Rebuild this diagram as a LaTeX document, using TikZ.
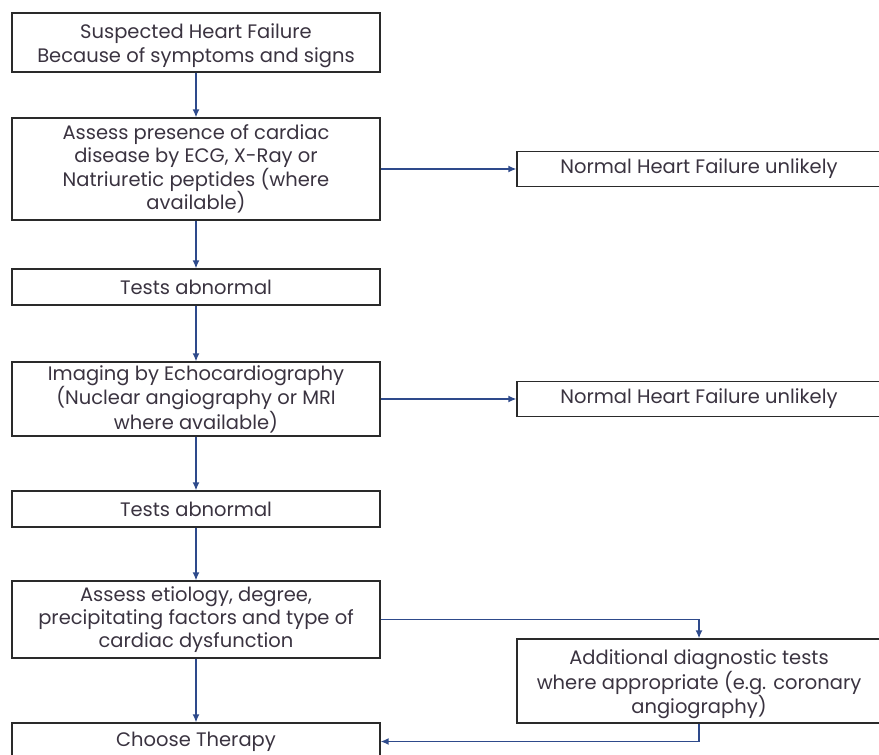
\documentclass[tikz,border=0pt]{standalone}
\usepackage{fontspec}
\setmainfont{Poppins}
\usetikzlibrary{arrows.meta}
\definecolor{linkblue}{HTML}{2E4A8B}
\definecolor{boxline}{HTML}{2A2A2A}
\definecolor{boxtext}{HTML}{3A3340}
\newcommand{\droptext}{\rule{0pt}{21.5pt}}
\begin{document}
\begin{tikzpicture}[x=1pt, y=-1pt,
    box/.style={draw=boxline, rectangle, line width=1.3pt, align=center, text=boxtext,
        font=\fontsize{19.5}{23.4}\selectfont, inner sep=0pt, minimum width=368pt},
    sidebox/.style={box, minimum width=364pt},
    link/.style={->, linkblue, line width=1.4pt},
    >={Latex[length=8pt, width=7pt]}]
    \useasboundingbox (0,0) rectangle (879,755);
    \clip (0,0) rectangle (879,755);
    % Nodes
    \node[box, minimum height=59pt] (S1) at (196, 42.5) {\droptext Suspected Heart Failure\\Because of symptoms and signs};
    \node[box, minimum height=102pt] (S2) at (196, 169) {Assess presence of cardiac\\disease by ECG, X-Ray or\\Natriuretic peptides (where\\available)};
    \node[box, minimum height=36pt] (T1) at (196, 287) {Tests abnormal};
    \node[box, minimum height=74pt] (S4) at (196, 399) {Imaging by Echocardiography\\(Nuclear angiography or MRI\\where available)};
    \node[box, minimum height=36pt] (T2) at (196, 509) {Tests abnormal};
    \node[box, minimum height=77pt] (S6) at (196, 619.5) {Assess etiology, degree,\\precipitating factors and type of\\cardiac dysfunction};
    \node[box, minimum height=37pt] (C) at (196, 741.5) {Choose Therapy};
    \node[sidebox, minimum height=35pt] (N1) at (699, 169) {Normal Heart Failure unlikely};
    \node[sidebox, minimum height=35pt] (N2) at (699, 399) {Normal Heart Failure unlikely};
    \node[sidebox, minimum height=84pt] (A) at (699, 681) {\droptext Additional diagnostic tests\\where appropriate (e.g. coronary\\angiography)};

    % Edges
    \draw[link] (S1) -- (S2);
    \draw[link] (S2) -- (T1);
    \draw[link] (T1) -- (S4);
    \draw[link] (S4) -- (T2);
    \draw[link] (T2) -- (S6);
    \draw[link] (S6) -- (C);
    \draw[link] (S2) -- (N1);
    \draw[link] (S4) -- (N2);
    \draw[link] (S6.east) -| (A.north);
    \draw[link] (A.south) |- (C.east);
\end{tikzpicture}
\end{document}
